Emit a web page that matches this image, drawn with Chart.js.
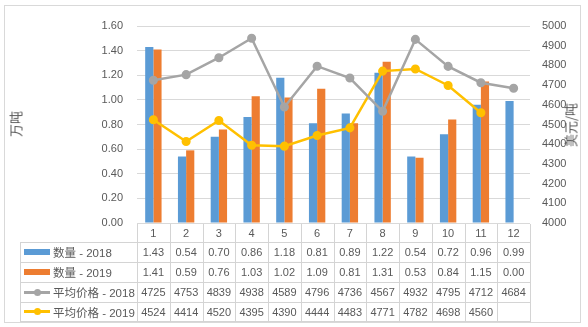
<!DOCTYPE html>
<html>
<head>
<meta charset="utf-8">
<script src="https://cdn.jsdelivr.net/npm/chart.js@4/dist/chart.umd.min.js"></script>
<style>
    body { margin: 0; background: #fff; }
    #wrap {
        position: relative; width: 588px; height: 327px; overflow: hidden;
        font-family: "Liberation Sans", "Noto Sans CJK SC", sans-serif; color: #595959;
    }
    #frame {
        position: absolute; left: 4px; top: 5px; width: 577px; height: 318px;
        border: 1px solid #d9d9d9; box-sizing: border-box;
    }
    #chart { position: absolute; left: 0; top: 0; }
    .axis-title {
        position: absolute; font-size: 13px; white-space: nowrap;
        font-family: "Noto Sans CJK SC", sans-serif;
        transform: translate(-50%, -50%) rotate(-90deg);
    }
    .rule { position: absolute; background: #d4d4d4; }
    .cell {
        position: absolute; font-size: 11px; text-align: center;
        display: flex; align-items: center; justify-content: center;
    }
    .key {
        position: absolute; font-size: 11.5px; white-space: nowrap;
        display: flex; align-items: center;
    }
    .swatch { display: inline-block; width: 26px; margin-right: 3px; position: relative; }
    .swatch.box { height: 6px; }
    .swatch.line { height: 3px; }
    .swatch.line i {
        position: absolute; left: 10px; top: -2px; width: 7px; height: 7px;
        border-radius: 50%; background: inherit;
    }
</style>
</head>
<body>
<div id="wrap">
    <div id="frame"></div>
    <canvas id="chart" width="588" height="327"></canvas>
    <div class="axis-title" style="left:15px; top:124px;">万吨</div>
    <div class="axis-title" style="left:570px; top:125px;">美元/吨</div>
</div>

<script>
// Months on the category axis
const months = ['1', '2', '3', '4', '5', '6', '7', '8', '9', '10', '11', '12'];

// Monthly volume (万吨)
const qty2018 = [1.43, 0.54, 0.70, 0.86, 1.18, 0.81, 0.89, 1.22, 0.54, 0.72, 0.96, 0.99];
const qty2019 = [1.41, 0.59, 0.76, 1.03, 1.02, 1.09, 0.81, 1.31, 0.53, 0.84, 1.15, 0.00];

// Average price (美元/吨)
const price2018 = [4725, 4753, 4839, 4938, 4589, 4796, 4736, 4567, 4932, 4795, 4712, 4684];
const price2019 = [4524, 4414, 4520, 4395, 4390, 4444, 4483, 4771, 4782, 4698, 4560, null];

// Axis ranges
const qtyAxis = [0, 1.6, 0.2];
const priceAxis = [4000, 5000, 100];

const seriesNames = ['数量 - 2018', '数量 - 2019', '平均价格 - 2018', '平均价格 - 2019'];
const seriesColors = ['#5B9BD5', '#ED7D31', '#A5A5A5', '#FFC000'];

const textColor = '#595959';
const tickFont = { family: '"Liberation Sans", sans-serif', size: 11 };

const chart = new Chart(document.getElementById('chart'), {
    type: 'bar',
    data: {
        labels: months,
        datasets: [
            {
                label: seriesNames[0], data: qty2018, yAxisID: 'y', order: 1,
                backgroundColor: seriesColors[0], barPercentage: 1, categoryPercentage: 0.5
            },
            {
                label: seriesNames[1], data: qty2019, yAxisID: 'y', order: 1,
                backgroundColor: seriesColors[1], barPercentage: 1, categoryPercentage: 0.5
            },
            {
                type: 'line', label: seriesNames[2], data: price2018, yAxisID: 'y1', order: 0,
                borderColor: seriesColors[2], backgroundColor: seriesColors[2],
                borderWidth: 2.5, pointRadius: 3.3, tension: 0
            },
            {
                type: 'line', label: seriesNames[3], data: price2019, yAxisID: 'y1', order: 0,
                borderColor: seriesColors[3], backgroundColor: seriesColors[3],
                borderWidth: 2.5, pointRadius: 3.3, tension: 0
            }
        ]
    },
    options: {
        responsive: false,
        animation: false,
        devicePixelRatio: 1,
        layout: { padding: { top: 26, bottom: 104, left: 0, right: 0 } },
        plugins: { legend: { display: false }, tooltip: { enabled: false } },
        scales: {
            x: { display: false, offset: true },
            y: {
                position: 'left', min: qtyAxis[0], max: qtyAxis[1],
                ticks: { stepSize: qtyAxis[2], padding: 14, color: textColor, font: tickFont,
                         callback: v => v.toFixed(2) },
                grid: { color: '#d9d9d9', drawTicks: false },
                border: { display: false },
                afterFit(scale) { scale.width = 137; }
            },
            y1: {
                position: 'right', min: priceAxis[0], max: priceAxis[1],
                ticks: { stepSize: priceAxis[2], padding: 12, color: textColor, font: tickFont,
                         callback: v => String(v) },
                grid: { drawOnChartArea: false, drawTicks: false },
                border: { display: false },
                afterFit(scale) { scale.width = 58; }
            }
        }
    }
});

/**
 * Data table under the plot, one column per month
 */
function buildDataTable(chart) {
    const wrap = document.getElementById('wrap');
    const area = chart.chartArea;
    const colW = (area.right - area.left) / months.length;
    const keyLeft = 20;
    const rowEdges = [area.bottom + 1, area.bottom + 19, area.bottom + 39,
                      area.bottom + 59, area.bottom + 79, area.bottom + 98];
    const rows = [qty2018, qty2019, price2018, price2019];

    function add(cls, style, html) {
        const el = document.createElement('div');
        el.className = cls;
        Object.assign(el.style, style);
        if (html !== undefined) el.innerHTML = html;
        wrap.appendChild(el);
        return el;
    }

    // Horizontal rules below the header row
    for (let r = 1; r < rowEdges.length; r++) {
        add('rule', { left: keyLeft + 'px', top: rowEdges[r] + 'px',
                      width: (area.right - keyLeft + 1) + 'px', height: '1px' });
    }
    // Vertical rules between columns
    for (let c = 0; c <= months.length; c++) {
        const x = Math.round(area.left + c * colW);
        add('rule', { left: x + 'px', top: rowEdges[0] + 'px',
                      width: '1px', height: (rowEdges[5] - rowEdges[0]) + 'px' });
    }
    add('rule', { left: keyLeft + 'px', top: rowEdges[1] + 'px',
                  width: '1px', height: (rowEdges[5] - rowEdges[1]) + 'px' });

    // Month header
    months.forEach((m, c) => {
        add('cell', { left: (area.left + c * colW) + 'px', top: rowEdges[0] + 'px',
                      width: colW + 'px', height: (rowEdges[1] - rowEdges[0]) + 'px' }, m);
    });

    // Series rows: key + values
    rows.forEach((values, r) => {
        const top = rowEdges[r + 1];
        const h = rowEdges[r + 2] - top;
        const isLine = r >= 2;
        const swatch = isLine
            ? `<span class="swatch line" style="background:${seriesColors[r]}"><i></i></span>`
            : `<span class="swatch box" style="background:${seriesColors[r]}"></span>`;
        add('key', { left: (keyLeft + 4) + 'px', top: top + 'px', height: h + 'px' },
            swatch + seriesNames[r]);

        values.forEach((v, c) => {
            const txt = v === null ? '' : (isLine ? String(v) : v.toFixed(2));
            add('cell', { left: (area.left + c * colW) + 'px', top: top + 'px',
                          width: colW + 'px', height: h + 'px' }, txt);
        });
    });
}

buildDataTable(chart);
</script>
</body>
</html>
